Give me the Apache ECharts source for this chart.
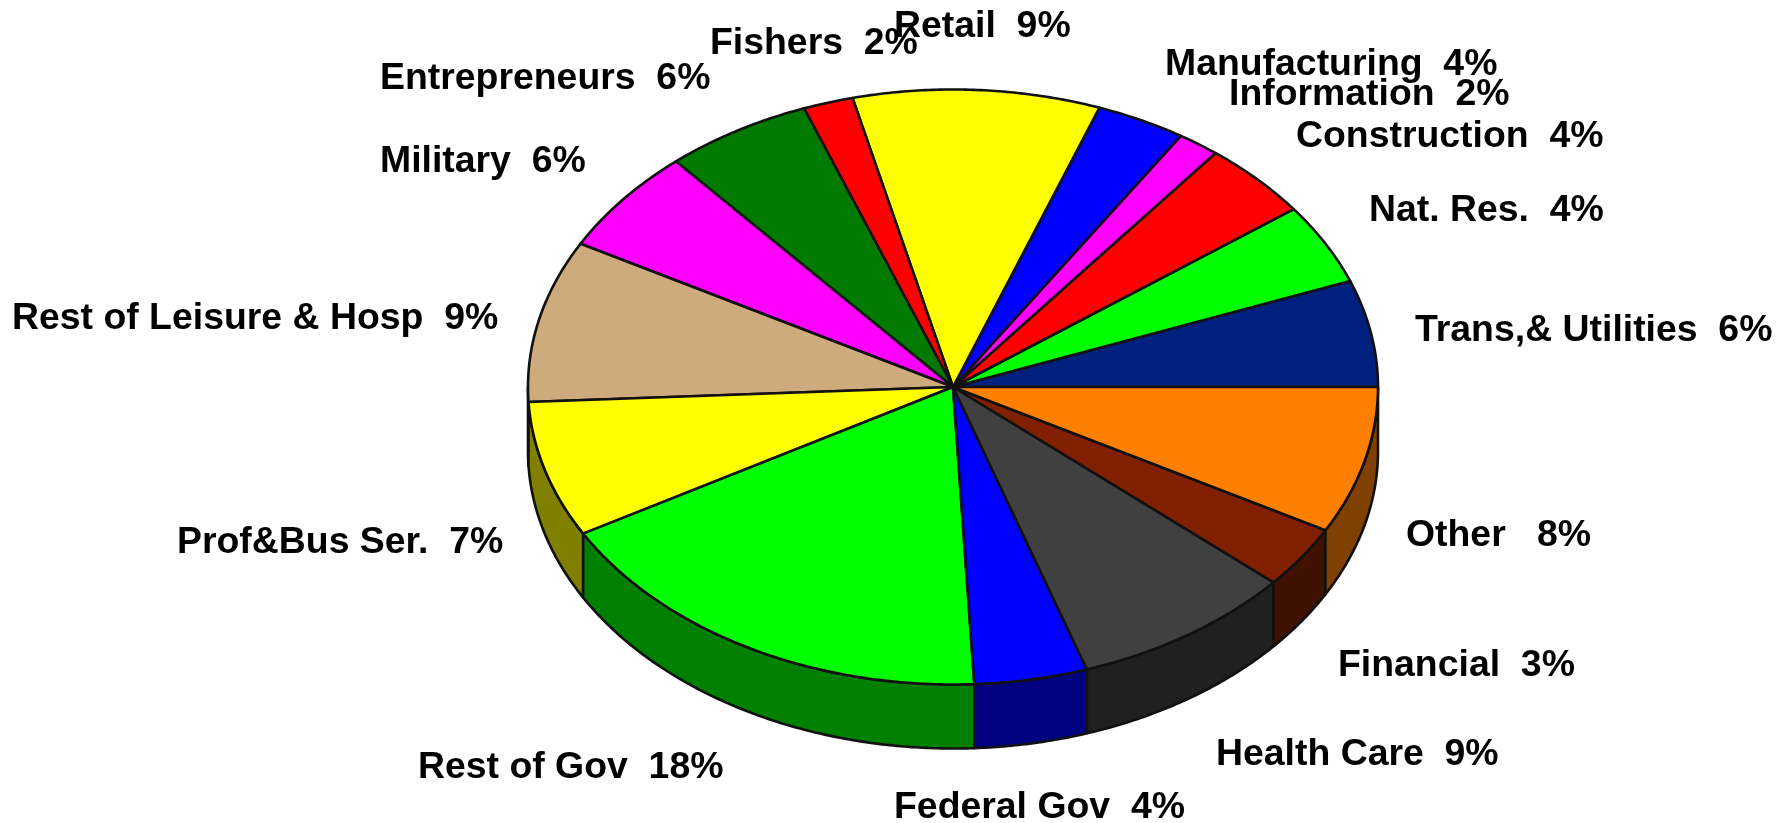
<!DOCTYPE html>
<html>
<head>
<meta charset="utf-8">
<script src="https://cdn.jsdelivr.net/npm/echarts@6/dist/echarts.min.js"></script>
<style>
    html, body { margin: 0; padding: 0; background: #fff; }
    #graph { width: 1786px; height: 823px; }
</style>
</head>
<body>
<div id="graph"></div>
<script>
// slices run counter clockwise from 3 o'clock
var categories = ['Trans,& Utilities', 'Nat. Res.', 'Construction', 'Information', 'Manufacturing', 'Retail', 'Fishers', 'Entrepreneurs', 'Military', 'Rest of Leisure & Hosp', 'Prof&Bus Ser.', 'Rest of Gov', 'Federal Gov', 'Health Care', 'Financial', 'Other'];
// share of the circle read from the slice edges
var shares = [5.8, 4.4, 4.2, 1.6, 3.4, 9.4, 1.9, 5.6, 5.7, 8.8, 7.4, 17.6, 4.3, 8.5, 3.4, 8.0];
// the text printed next to each slice
var labelTexts = ['6%', '4%', '4%', '2%', '4%', '9%', '2%', '6%', '6%', '9%', '7%', '18%', '4%', '9%', '3%', '8%'];
var labelGaps = ['  ', '  ', '  ', '  ', '  ', '  ', '  ', '  ', '  ', '  ', '  ', '  ', '  ', '  ', '  ', '   '];

var sliceColors = ['#002080', '#00ff00', '#ff0000', '#ff00ff', '#0000ff', '#ffff00', '#ff0000', '#007a00', '#ff00ff', '#cdab7c', '#ffff00', '#00ff00', '#0000ff', '#404040', '#802000', '#ff8000'];
var wallColors = ['#001040', '#008000', '#800000', '#800080', '#000080', '#808000', '#800000', '#003d00', '#800080', '#665540', '#808000', '#008000', '#000080', '#202020', '#401000', '#804000'];

// label left edge / middle, page pixels
var labelX = [1415, 1369, 1296, 1229, 1165, 894, 710, 380, 380, 12, 177, 418, 894, 1216, 1338, 1406];
var labelY = [331, 211, 137, 95, 65, 27, 44, 79, 162, 319, 543, 768, 808, 755, 666, 536];

var cx = 953, cy = 387, rx = 425, ry = 297.5, depth = 64;

function rimPoint(deg, drop) {
    var a = deg * Math.PI / 180;
    return [cx + rx * Math.cos(a), cy - ry * Math.sin(a) + drop];
}

function arcPoints(from, to, drop) {
    var pts = [];
    var n = Math.max(2, Math.ceil((to - from) * 2));
    for (var i = 0; i <= n; i++) {
        pts.push(rimPoint(from + (to - from) * i / n, drop));
    }
    return pts;
}

var total = shares.reduce(function (a, b) { return a + b; }, 0);

function renderSlice(params, api) {
    var i = params.dataIndex;
    var before = 0;
    for (var k = 0; k < i; k++) before += shares[k];
    var from = before / total * 360;
    var to = (before + api.value(0)) / total * 360;
    var children = [];
    var line = { stroke: '#111', lineWidth: 2.6, lineJoin: 'round' };

    // side wall, only the front half of the disc shows it
    var wFrom = Math.max(from, 180);
    if (to > wFrom) {
        var top = arcPoints(wFrom, to, 0);
        var bottom = arcPoints(wFrom, to, depth).reverse();
        children.push({
            type: 'polygon',
            shape: { points: top.concat(bottom) },
            style: Object.assign({ fill: wallColors[i] }, line)
        });
    }
    children.push({
        type: 'polygon',
        shape: { points: [[cx, cy]].concat(arcPoints(from, to, 0)) },
        style: Object.assign({ fill: sliceColors[i] }, line)
    });
    children.push({
        type: 'text',
        z2: 10,
        style: {
            x: labelX[i],
            y: labelY[i],
            text: categories[i] + labelGaps[i] + labelTexts[i],
            fill: '#000',
            font: 'bold 37.4px "Liberation Sans", Arial, sans-serif',
            textAlign: 'left',
            textVerticalAlign: 'middle'
        }
    });
    return { type: 'group', children: children };
}

var myChart = echarts.init(document.getElementById('graph'));
var option = {
    backgroundColor: '#fff',
    animation: false,
    series: [
        {
            type: 'custom',
            coordinateSystem: 'none',
            silent: true,
            clip: false,
            renderItem: renderSlice,
            data: shares.map(function (v) { return [v]; })
        }
    ]
};
myChart.setOption(option);
</script>
</body>
</html>
